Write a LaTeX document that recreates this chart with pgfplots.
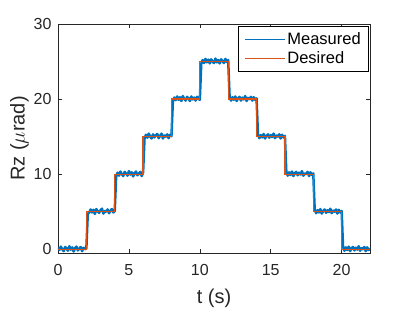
\documentclass[border=0pt]{standalone}
\usepackage{fontspec}
\setmainfont{Liberation Sans}
\usepackage{pgfplots}
\pgfplotsset{compat=1.18}
\definecolor{mblue}{rgb}{0,0.447,0.741}
\definecolor{morange}{rgb}{0.85,0.325,0.098}
\definecolor{mgray}{rgb}{0.15,0.15,0.15}
\begin{document}
\begin{tikzpicture}
\begin{axis}[
  name=ax,
  scale only axis,
  width=312pt, height=229pt,
  xmin=0, xmax=22, ymin=-0.5, ymax=30,
  xtick={0,5,10,15,20}, ytick={0,10,20,30},
  tick align=inside,
  major tick length=4pt,
  axis line style={mgray, line width=0.6pt},
  every tick/.style={mgray, line width=0.6pt},
  /pgf/number format/assume math mode=true,
  tick label style={font=\fontsize{16}{18}\selectfont, text=mgray},
  xticklabel style={yshift=-8pt},
  yticklabel style={xshift=-3pt},
  label style={font=\fontsize{20}{22}\selectfont, text=mgray},
  xlabel={t (s)},
  ylabel={Rz ($\mu$rad)},
  xlabel style={yshift=-6pt},
  ylabel style={yshift=-2pt},
  legend style={at={(0.997,0.99)}, anchor=north east, draw=black, line width=0.6pt,
    font=\fontsize{16.5}{18}\selectfont, inner xsep=6pt, inner ysep=4pt, row sep=2pt,
    cells={anchor=west}},
  legend cell align=left,
  legend image code/.code={\draw[#1, line width=0.6pt] (0pt,0pt) -- (40pt,0pt);},
]
\addplot[mblue, line width=2.5pt, line join=round] coordinates {
(0,0.2)(0.1,-0.1)(0.2,0.35)(0.3,0)(0.4,-0.25)(0.5,0.3)(0.6,0.1)(0.7,-0.2)(0.8,0.4)(0.9,-0.05)
(1,0.25)(1.1,-0.3)(1.2,0.15)(1.3,0.35)(1.4,-0.15)(1.5,0.05)(1.6,0.3)(1.7,-0.25)(1.8,0.2)(1.9,0)
(2.0,0.1)(2.1,4.7)(2.2,4.9)(2.3,5.3)(2.4,4.9)(2.5,5.25)(2.6,4.7)(2.7,5.35)(2.8,5.05)(2.9,4.85)
(3.0,5.2)(3.1,5.4)(3.2,4.75)(3.3,5.1)(3.4,5.0)(3.5,5.3)(3.6,4.8)(3.7,5.15)(3.8,5.35)(3.9,4.9)
(4.0,5.1)(4.1,9.7)(4.2,10.2)(4.3,9.8)(4.4,10.35)(4.5,10.0)(4.6,9.75)(4.7,10.3)(4.8,10.1)(4.9,9.8)
(5.0,10.4)(5.1,9.95)(5.2,10.25)(5.3,9.7)(5.4,10.15)(5.5,10.35)(5.6,9.85)(5.7,10.05)(5.8,10.3)(5.9,9.75)
(6.0,10.2)(6.1,14.7)(6.2,15.25)(6.3,14.85)(6.4,15.4)(6.5,15.0)(6.6,14.75)(6.7,15.3)(6.8,14.9)(6.9,15.2)
(7.0,15.35)(7.1,14.8)(7.2,15.1)(7.3,15.4)(7.4,14.75)(7.5,15.15)(7.6,15.0)(7.7,15.3)(7.8,14.8)(7.9,15.25)
(8.0,15.05)(8.1,19.7)(8.2,20.2)(8.3,19.85)(8.4,20.35)(8.5,19.9)(8.6,20.25)(8.7,19.75)(8.8,20.4)(8.9,20.0)
(9.0,19.8)(9.1,20.3)(9.2,20.1)(9.3,19.75)(9.4,20.35)(9.5,19.95)(9.6,20.2)(9.7,19.8)(9.8,20.3)(9.9,20.05)
(10.0,19.9)(10.1,24.7)(10.2,25.2)(10.3,24.8)(10.4,25.35)(10.5,24.9)(10.6,25.25)(10.7,24.75)(10.8,25.3)(10.9,25.0)
(11.0,24.8)(11.1,25.4)(11.2,24.9)(11.3,25.2)(11.4,24.75)(11.5,25.3)(11.6,25.05)(11.7,24.8)(11.8,25.35)(11.9,24.95)
(12.0,25.2)(12.1,20.3)(12.2,19.8)(12.3,20.25)(12.4,19.9)(12.5,20.35)(12.6,19.75)(12.7,20.1)(12.8,20.3)(12.9,19.8)
(13.0,20.2)(13.1,19.95)(13.2,20.4)(13.3,19.75)(13.4,20.15)(13.5,20.0)(13.6,20.3)(13.7,19.8)(13.8,20.25)(13.9,19.9)
(14.0,20.1)(14.1,15.3)(14.2,14.8)(14.3,15.2)(14.4,14.9)(14.5,15.35)(14.6,14.75)(14.7,15.1)(14.8,15.3)(14.9,14.85)
(15.0,15.2)(15.1,14.95)(15.2,15.4)(15.3,14.8)(15.4,15.15)(15.5,15.0)(15.6,15.3)(15.7,14.75)(15.8,15.25)(15.9,14.9)
(16.0,15.1)(16.1,10.3)(16.2,9.8)(16.3,10.25)(16.4,9.9)(16.5,10.35)(16.6,9.75)(16.7,10.15)(16.8,10.3)(16.9,9.85)
(17.0,10.2)(17.1,9.95)(17.2,10.4)(17.3,9.8)(17.4,10.1)(17.5,10.0)(17.6,10.3)(17.7,9.75)(17.8,10.25)(17.9,9.9)
(18.0,10.1)(18.1,5.3)(18.2,4.8)(18.3,5.2)(18.4,4.9)(18.5,5.35)(18.6,4.75)(18.7,5.1)(18.8,5.3)(18.9,4.85)
(19.0,5.2)(19.1,4.95)(19.2,5.4)(19.3,4.8)(19.4,5.15)(19.5,5.0)(19.6,5.3)(19.7,4.75)(19.8,5.25)(19.9,4.9)
(20.0,5.1)(20.1,0.3)(20.2,-0.2)(20.3,0.25)(20.4,-0.1)(20.5,0.35)(20.6,-0.25)(20.7,0.15)(20.8,0.3)(20.9,-0.15)
(21.0,0.2)(21.1,-0.05)(21.2,0.4)(21.3,-0.2)(21.4,0.15)(21.5,0.0)(21.6,0.3)(21.7,-0.25)(21.8,0.25)(21.9,-0.1)
(22.0,0.1)
};
\addlegendentry{Measured}
\addplot[morange, line width=1.2pt] coordinates {
(0,0)(2,0)(2,5)(4,5)(4,10)(6,10)(6,15)(8,15)(8,20)(10,20)(10,25)(12,25)
(12,20)(14,20)(14,15)(16,15)(16,10)(18,10)(18,5)(20,5)(20,0)(22,0)
};
\addlegendentry{Desired}
\end{axis}
\path ([shift={(-58pt,-60pt)}]ax.south west) rectangle ([shift={(39pt,24pt)}]ax.north east);
\end{tikzpicture}
\end{document}
